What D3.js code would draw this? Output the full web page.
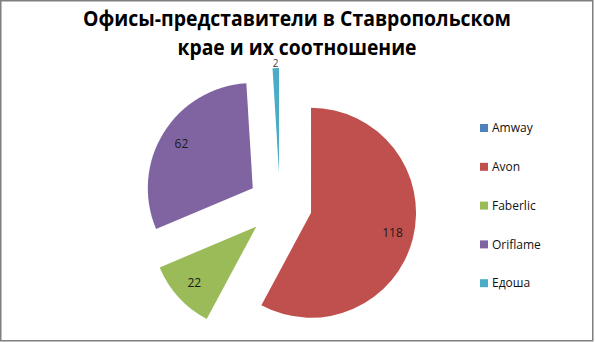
<!DOCTYPE html>
<html>
<head>
<meta charset="utf-8">
<script src="https://cdn.jsdelivr.net/npm/d3@7"></script>
<style>
  body { margin: 0; background: #fff; }
  svg { display: block; }
</style>
</head>
<body>
<div id="chart"></div>
<script>
// Data
const titleLines = ["Офисы-представители в Ставропольском", "крае и их соотношение"];
const titleWidths = [428, 239];
const categories = ["Amway", "Avon", "Faberlic", "Oriflame", "Едоша"];
const values = [0, 118, 22, 62, 2];
const colors = ["#4F81BD", "#C0504D", "#9BBB59", "#8064A2", "#4BACC6"];

const width = 595;
const height = 342;
const font = "'Open Sans', 'DejaVu Sans', sans-serif";

const svg = d3
  .select("#chart")
  .append("svg")
  .attr("width", width)
  .attr("height", height);

// Chart frame
svg
  .append("rect")
  .attr("x", 0.75)
  .attr("y", 0.75)
  .attr("width", 592)
  .attr("height", 340)
  .attr("fill", "#fff")
  .attr("stroke", "#7f7f7f")
  .attr("stroke-width", 1.5);

// Title (Calibri-like narrow bold: compress glyphs to the reference width)
svg
  .append("g")
  .attr("font-family", font)
  .attr("font-weight", "bold")
  .attr("font-size", 21)
  .attr("fill", "#000")
  .attr("text-anchor", "middle")
  .selectAll("text")
  .data(titleLines)
  .enter()
  .append("text")
  .attr("x", 297)
  .attr("y", (d, i) => 26 + i * 29)
  .attr("textLength", (d, i) => titleWidths[i])
  .attr("lengthAdjust", "spacingAndGlyphs")
  .text((d) => d);

// Pie layout, starting at 12 o'clock, clockwise in data order
const pie = d3.pie().sort(null).value((d) => d.value);
const data = categories.map((c, i) => ({ name: c, value: values[i], color: colors[i] }));
const arcs = pie(data);

const cx = 280;
const cy = 205;
const radius = 105;
const explode = 32;

const arc = d3.arc().innerRadius(0).outerRadius(radius);

const pieG = svg.append("g").attr("transform", `translate(${cx}, ${cy})`);

function offset(d, dist) {
  const a = (d.startAngle + d.endAngle) / 2;
  return [Math.sin(a) * dist, -Math.cos(a) * dist];
}

const isThin = (d) => d.endAngle - d.startAngle < 0.2;

const slices = pieG
  .selectAll("g.slice")
  .data(arcs.filter((d) => d.value > 0))
  .enter()
  .append("g")
  .attr("class", "slice")
  .attr("transform", (d) => `translate(${offset(d, explode)})`);

slices
  .append("path")
  .attr("d", arc)
  .attr("fill", (d) => d.data.color);

// Data labels: inside for wide slices, outside for the thin one
slices
  .append("text")
  .attr("transform", (d) => `translate(${offset(d, isThin(d) ? radius + 5 : radius * 0.8)})`)
  .attr("dy", "0.35em")
  .attr("text-anchor", "middle")
  .attr("font-family", font)
  .attr("font-size", (d) => (isThin(d) ? 10 : 12))
  .attr("fill", (d) => (isThin(d) ? "#404040" : "#1a1a1a"))
  .text((d) => d.value);

// Legend
const legend = svg
  .append("g")
  .attr("transform", "translate(480, 128)")
  .attr("font-family", font)
  .attr("font-size", 12);

const legendItem = legend
  .selectAll("g")
  .data(data)
  .enter()
  .append("g")
  .attr("transform", (d, i) => `translate(0, ${i * 38.8})`);

legendItem
  .append("rect")
  .attr("x", 0)
  .attr("y", -4)
  .attr("width", 8)
  .attr("height", 8)
  .attr("fill", (d) => d.color);

legendItem
  .append("text")
  .attr("x", 12)
  .attr("dy", "0.35em")
  .attr("fill", "#111")
  .text((d) => d.name);
</script>
</body>
</html>
